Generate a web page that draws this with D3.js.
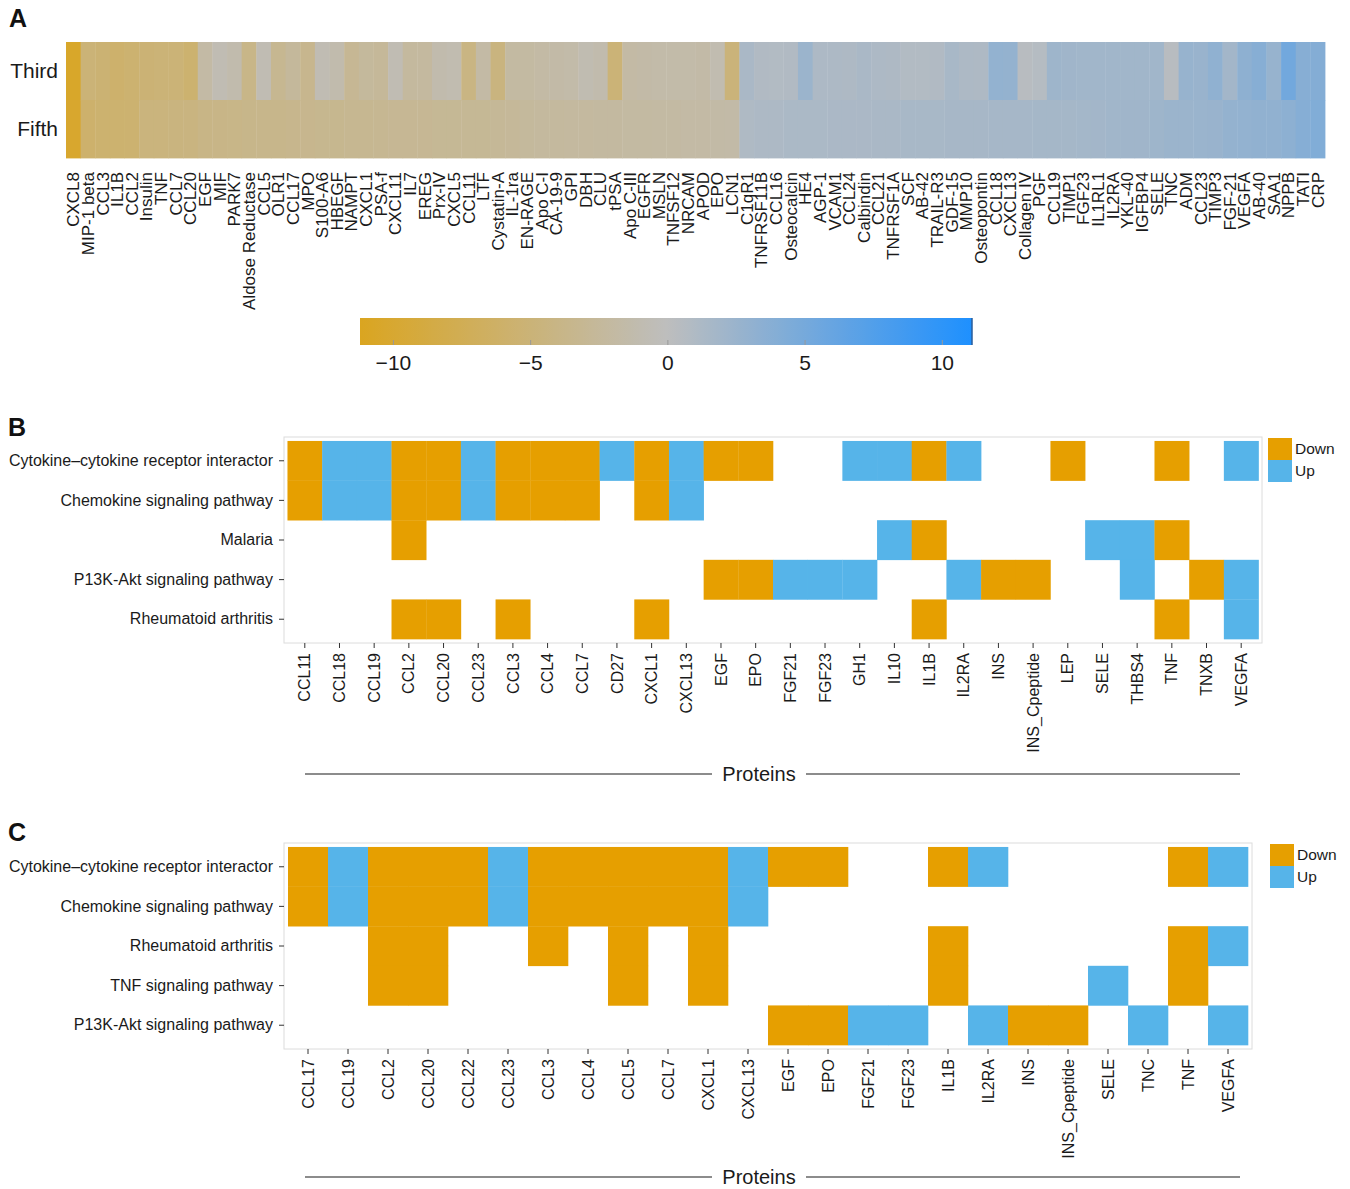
<!DOCTYPE html>
<html>
<head>
<meta charset="utf-8">
<script src="https://cdn.jsdelivr.net/npm/d3@7"></script>
<style>
  body { margin: 0; background: #fff; }
  text { font-family: "Liberation Sans", Arial, Helvetica, sans-serif; }
</style>
</head>
<body>
<script>
// ---- panel A data: log fold change per protein, third and fifth ----
const hmProteins = ["CXCL8", "MIP-1 beta", "CCL3", "IL1B", "CCL2", "Insulin", "TNF", "CCL7", "CCL20", "EGF",
  "MIF", "PARK7", "Aldose Reductase", "CCL5", "OLR1", "CCL17", "MPO", "S100-A6", "HBEGF", "NAMPT",
  "CXCL1", "PSA-f", "CXCL11", "IL7", "EREG", "Prx-IV", "CXCL5", "CCL11", "LTF", "Cystatin-A",
  "IL-1ra", "EN-RAGE", "Apo C-I", "CA-19-9", "GPI", "DBH", "CLU", "tPSA", "Apo C-III", "EGFR",
  "MSLN", "TNFSF12", "NRCAM", "APOD", "EPO", "LCN1", "C1qR1", "TNFRSF11B", "CCL16", "Osteocalcin",
  "HE4", "AGP-1", "VCAM1", "CCL24", "Calbindin", "CCL21", "TNFRSF1A", "SCF", "AB-42", "TRAIL-R3",
  "GDF-15", "MMP10", "Osteopontin", "CCL18", "CXCL13", "Collagen IV", "PGF", "CCL19", "TIMP1", "FGF23",
  "IL1RL1", "IL2RA", "YKL-40", "IGFBP4", "SELE", "TNC", "ADM", "CCL23", "TIMP3", "FGF-21",
  "VEGFA", "AB-40", "SAA1", "NPPB", "TATI", "CRP"];
const hmRows = ["Third", "Fifth"];
const thirdVals = [-10.5, -5.0, -5.3, -5.8, -5.5, -5.2, -5.0, -5.0, -5.6, -1.8,
  -0.8, -1.2, -3.8, -0.8, -3.2, -2.5, -3.4, -0.8, -1.2, -3.0,
  -2.4, -2.6, -0.8, -2.3, -2.2, -1.2, -1.0, -4.2, -1.8, -4.5,
  -2.0, -2.0, -1.8, -1.6, -1.5, -0.9, -1.2, -5.0, -1.8, -1.6,
  -1.5, -1.5, -1.5, -1.6, -1.0, -4.8, 1.4, 0.9, 0.8, 0.9,
  2.4, 1.2, 1.2, 1.1, 1.4, 1.2, 1.1, 0.8, 0.8, 0.9,
  1.5, 1.2, 1.1, 3.0, 2.9, 0.4, 0.6, 2.2, 2.1, 2.0,
  2.0, 2.0, 2.0, 2.0, 2.0, 0.4, 2.7, 2.6, 3.2, 1.9,
  3.3, 3.8, 2.7, 5.3, 3.8, 4.0];
const fifthVals = [-10.2, -5.8, -5.6, -5.6, -5.5, -4.6, -4.6, -4.5, -4.4, -4.0,
  -3.9, -3.8, -3.7, -3.6, -3.6, -3.5, -3.4, -3.3, -3.3, -3.2,
  -3.2, -3.1, -3.0, -3.0, -3.0, -2.9, -2.9, -2.9, -2.9, -2.8,
  -2.6, -2.4, -2.3, -2.3, -2.2, -2.2, -2.1, -2.1, -2.0, -2.0,
  -1.9, -1.9, -1.8, -1.8, -1.7, -1.6, 1.05, 1.2, 1.2, 1.3,
  1.3, 1.3, 1.35, 1.35, 1.35, 1.4, 1.4, 1.5, 1.5, 1.5,
  1.6, 1.6, 1.6, 1.65, 1.65, 1.65, 1.7, 1.7, 1.7, 1.8,
  1.9, 2.0, 2.1, 2.1, 2.2, 2.4, 2.4, 2.5, 2.55, 2.9,
  3.0, 3.1, 3.15, 3.4, 3.9, 4.2];
const cbTicks = [-10, -5, 0, 5, 10];

// ---- panel B data: D = down, U = up, . = none (one char per protein) ----
const bProteins = ["CCL11", "CCL18", "CCL19", "CCL2", "CCL20", "CCL23", "CCL3", "CCL4", "CCL7", "CD27",
  "CXCL1", "CXCL13", "EGF", "EPO", "FGF21", "FGF23", "GH1", "IL10", "IL1B", "IL2RA",
  "INS", "INS_Cpeptide", "LEP", "SELE", "THBS4", "TNF", "TNXB", "VEGFA"];
const bPathways = ["Cytokine\u2013cytokine receptor interactor", "Chemokine signaling pathway", "Malaria",
  "P13K-Akt signaling pathway", "Rheumatoid arthritis"];
const bCodes = [
  "DUUDDUDDDUDUDD..UUDU..D..D.U",
  "DUUDDUDDD.DU................",
  "...D.............UD....UUD..",
  "............DDUUU..UDD..U.DU",
  "...DD.D...D.......D......D.U"];

// ---- panel C data ----
const cProteins = ["CCL17", "CCL19", "CCL2", "CCL20", "CCL22", "CCL23", "CCL3", "CCL4", "CCL5", "CCL7",
  "CXCL1", "CXCL13", "EGF", "EPO", "FGF21", "FGF23", "IL1B", "IL2RA", "INS", "INS_Cpeptide",
  "SELE", "TNC", "TNF", "VEGFA"];
const cPathways = ["Cytokine\u2013cytokine receptor interactor", "Chemokine signaling pathway",
  "Rheumatoid arthritis", "TNF signaling pathway", "P13K-Akt signaling pathway"];
const cCodes = [
  "DUDDDUDDDDDUDD..DU....DU",
  "DUDDDUDDDDDU............",
  "..DD..D.D.D.....D.....DU",
  "..DD....D.D.....D...U.D.",
  "............DDUU.UDD.U.U"];

const dirNames = { D: "Down", U: "Up" };
const dirColor = d3.scaleOrdinal().domain(["Down", "Up"]).range(["#E69F00", "#56B4E9"]);

const svg = d3.select("body").append("svg")
  .attr("width", 1350)
  .attr("height", 1189);

const panelLetter = (txt, x, y) => {
  svg.append("text").attr("x", x).attr("y", y)
    .attr("font-size", 25).attr("font-weight", "bold").attr("fill", "#111")
    .text(txt);
};

// ================= panel A =================
panelLetter("A", 9, 27);

const hmX = d3.scaleBand().domain(hmProteins).range([66, 1325]);
const hmY = d3.scaleBand().domain(hmRows).range([42, 158]);
const fc = d3.scaleLinear()
  .domain([-11.2, 0, 11.1])
  .range(["#DAA520", "#BEBEBE", "#1E90FF"])
  .interpolate(d3.interpolateRgb);

const hmCells = [];
hmProteins.forEach((p, i) => {
  hmCells.push({ row: "Third", protein: p, value: thirdVals[i] });
  hmCells.push({ row: "Fifth", protein: p, value: fifthVals[i] });
});

svg.append("g")
  .selectAll("rect")
  .data(hmCells)
  .enter()
  .append("rect")
  .attr("x", (d) => hmX(d.protein))
  .attr("y", (d) => hmY(d.row))
  .attr("width", hmX.bandwidth() + 0.4)
  .attr("height", hmY.bandwidth() + 0.4)
  .attr("fill", (d) => fc(d.value));

const hmLeft = svg.append("g")
  .attr("transform", "translate(66,0)")
  .call(d3.axisLeft(hmY).tickSize(0).tickPadding(8));
hmLeft.select(".domain").remove();
hmLeft.selectAll("text").attr("font-size", 21).attr("fill", "#1a1a1a").attr("font-family", null);

const hmBottom = svg.append("g")
  .attr("transform", "translate(0,158)")
  .call(d3.axisBottom(hmX).tickSize(0));
hmBottom.select(".domain").remove();
hmBottom.selectAll("text")
  .attr("transform", "rotate(-90)")
  .attr("x", -14)
  .attr("y", 0)
  .attr("dy", "0.35em")
  .attr("text-anchor", "end")
  .attr("font-size", 17)
  .attr("font-family", null)
  .attr("fill", "#1a1a1a");

// colour bar
const cbX = d3.scaleLinear().domain([-11.2, 11.1]).range([360, 972]);
const grad = svg.append("defs").append("linearGradient").attr("id", "cbgrad");
grad.selectAll("stop")
  .data(d3.range(0, 1.0001, 0.02))
  .enter()
  .append("stop")
  .attr("offset", (t) => `${t * 100}%`)
  .attr("stop-color", (t) => fc(cbX.invert(360 + t * 612)));
svg.append("rect")
  .attr("x", 360).attr("y", 318).attr("width", 612).attr("height", 27)
  .attr("fill", "url(#cbgrad)");
svg.append("line")
  .attr("x1", 972).attr("x2", 972).attr("y1", 318).attr("y2", 345)
  .attr("stroke", "#2a5d9a").attr("stroke-width", 1.5);
const cbAxis = svg.append("g")
  .attr("transform", "translate(0,345)")
  .call(d3.axisBottom(cbX).tickValues(cbTicks).tickSize(4).tickPadding(6)
    .tickFormat((d) => (d < 0 ? "\u2212" + Math.abs(d) : d)));
cbAxis.select(".domain").remove();
cbAxis.selectAll(".tick line").attr("y1", -5).attr("y2", 0).attr("stroke", "#999");
cbAxis.selectAll("text").attr("font-size", 21).attr("font-family", null).attr("fill", "#1a1a1a");

// ================= panels B and C =================
const drawPathwayPanel = (opts) => {
  const { proteins, pathways, codes, left, right, top, bottom, legendX, titleY } = opts;
  const x = d3.scaleBand().domain(proteins).range([left, right]).paddingOuter(0.1);
  const y = d3.scaleBand().domain(pathways).range([top, bottom]).paddingOuter(0.1);

  const cells = [];
  pathways.forEach((pw, r) => {
    codes[r].split("").forEach((c, i) => {
      if (dirNames[c]) cells.push({ pathway: pw, protein: proteins[i], dir: dirNames[c] });
    });
  });

  svg.append("rect")
    .attr("x", left).attr("y", top)
    .attr("width", right - left).attr("height", bottom - top)
    .attr("fill", "none").attr("stroke", "#dcdcdc").attr("stroke-width", 1);

  svg.append("g")
    .selectAll("rect")
    .data(cells)
    .enter()
    .append("rect")
    .attr("x", (d) => x(d.protein))
    .attr("y", (d) => y(d.pathway))
    .attr("width", x.bandwidth() + 0.3)
    .attr("height", y.bandwidth() + 0.3)
    .attr("fill", (d) => dirColor(d.dir));

  const yAx = svg.append("g")
    .attr("transform", `translate(${left},0)`)
    .call(d3.axisLeft(y).tickSize(5).tickPadding(6));
  yAx.select(".domain").remove();
  yAx.selectAll(".tick line").attr("stroke", "#333");
  yAx.selectAll("text").attr("font-size", 16).attr("font-family", null).attr("fill", "#1a1a1a");

  const xAx = svg.append("g")
    .attr("transform", `translate(0,${bottom})`)
    .call(d3.axisBottom(x).tickSize(5));
  xAx.select(".domain").remove();
  xAx.selectAll(".tick line").attr("stroke", "#333");
  xAx.selectAll("text")
    .attr("transform", "rotate(-90)")
    .attr("x", -10)
    .attr("y", 0)
    .attr("dy", "0.35em")
    .attr("text-anchor", "end")
    .attr("font-size", 16)
    .attr("font-family", null)
    .attr("fill", "#1a1a1a");

  // legend
  const leg = svg.append("g").attr("transform", `translate(${legendX},${top + 1})`);
  dirColor.domain().forEach((k, i) => {
    leg.append("rect")
      .attr("x", 0).attr("y", i * 22)
      .attr("width", 24).attr("height", 22)
      .attr("fill", dirColor(k));
    leg.append("text")
      .attr("x", 27).attr("y", i * 22 + 11)
      .attr("dy", "0.35em")
      .attr("font-size", 15.5)
      .attr("fill", "#1a1a1a")
      .text(k);
  });

  // axis title with rule
  svg.append("line")
    .attr("x1", 305).attr("x2", 712).attr("y1", titleY).attr("y2", titleY)
    .attr("stroke", "#666").attr("stroke-width", 1.5);
  svg.append("line")
    .attr("x1", 806).attr("x2", 1240).attr("y1", titleY).attr("y2", titleY)
    .attr("stroke", "#666").attr("stroke-width", 1.5);
  svg.append("text")
    .attr("x", 759).attr("y", titleY)
    .attr("dy", "0.35em")
    .attr("text-anchor", "middle")
    .attr("font-size", 20)
    .attr("fill", "#1a1a1a")
    .text("Proteins");
};

panelLetter("B", 8, 436);
drawPathwayPanel({
  proteins: bProteins, pathways: bPathways, codes: bCodes,
  left: 284, right: 1262, top: 437, bottom: 643, legendX: 1268, titleY: 774,
});

panelLetter("C", 8, 841);
drawPathwayPanel({
  proteins: cProteins, pathways: cPathways, codes: cCodes,
  left: 284, right: 1252, top: 843, bottom: 1049, legendX: 1270, titleY: 1177,
});
</script>
</body>
</html>
